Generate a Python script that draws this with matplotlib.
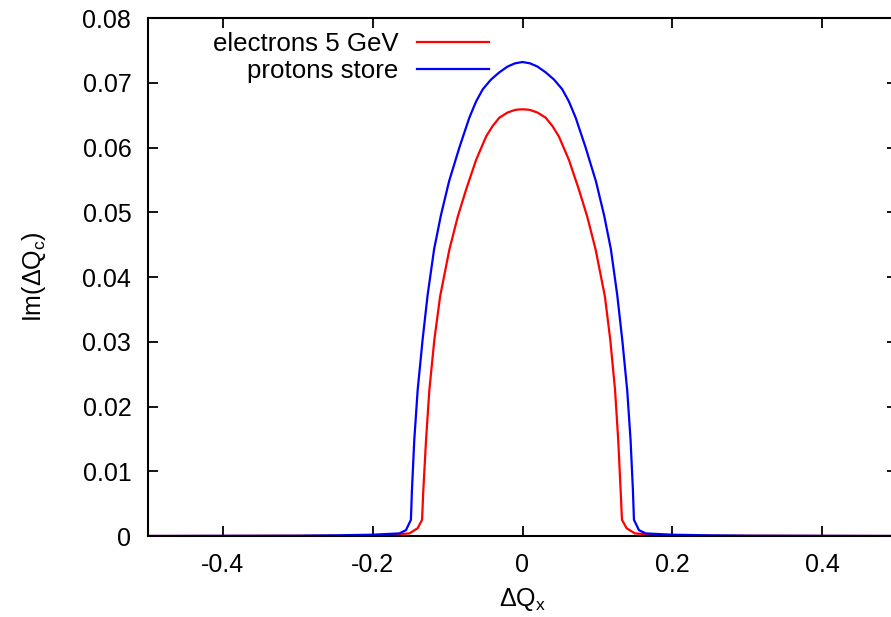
import numpy as np
import matplotlib
matplotlib.use("Agg")
import matplotlib.pyplot as plt

plt.rcParams['font.family'] = ['Liberation Sans', 'DejaVu Sans']
plt.rcParams['mathtext.fontset'] = 'custom'
plt.rcParams['mathtext.rm'] = 'Liberation Sans'
plt.rcParams['axes.unicode_minus'] = False

# data
dq_blue = [-0.5, -0.30, -0.25, -0.20, -0.1645, -0.1556, -0.149, -0.1476, -0.1445,
           -0.140, -0.1334, -0.1267, -0.118, -0.109, -0.098, -0.084, -0.071,
           -0.062, -0.053, -0.042, -0.031, -0.020, -0.010, -0.005, 0.0,
           0.005, 0.010, 0.020, 0.031, 0.042, 0.053, 0.062, 0.071, 0.084, 0.098, 0.109,
           0.118, 0.1265, 0.1332, 0.1398, 0.1443, 0.1474, 0.1488, 0.1555, 0.1645,
           0.20, 0.25, 0.30, 0.5]
im_blue = [0.0, 0.00004, 0.0001, 0.0002, 0.0004, 0.0009, 0.0025, 0.0071, 0.0148,
           0.0225, 0.0303, 0.0372, 0.0443, 0.0495, 0.0548, 0.0601, 0.0646,
           0.0671, 0.0690, 0.0705, 0.0716, 0.0725, 0.0730, 0.0731, 0.0732,
           0.0731, 0.0730, 0.0725, 0.0716, 0.0705, 0.0690, 0.0671, 0.0646, 0.0601, 0.0548, 0.0495,
           0.0443, 0.0372, 0.0303, 0.0225, 0.0148, 0.0071, 0.0025, 0.0009, 0.0004,
           0.0002, 0.0001, 0.00004, 0.0]

dq_red = [-0.5, -0.22, -0.18, -0.151, -0.140, -0.1341, -0.1324, -0.1288, -0.1244,
          -0.1177, -0.110, -0.0977, -0.0865, -0.0753, -0.0619, -0.0486, -0.040,
          -0.031, -0.020, -0.010, -0.005, 0.0,
          0.005, 0.010, 0.020, 0.031, 0.040, 0.0486, 0.0619, 0.0753, 0.0865, 0.0977,
          0.110, 0.1172, 0.1236, 0.1278, 0.1310, 0.1328, 0.139, 0.150, 0.18, 0.22, 0.5]
im_red = [0.0, 0.00005, 0.00015, 0.0004, 0.0012, 0.0025, 0.0071, 0.0148, 0.0225,
          0.0303, 0.0370, 0.0442, 0.0493, 0.0535, 0.0581, 0.0617, 0.0633,
          0.0646, 0.0654, 0.0658, 0.06587, 0.0659,
          0.06587, 0.0658, 0.0654, 0.0646, 0.0633, 0.0617, 0.0581, 0.0535, 0.0493, 0.0442,
          0.0370, 0.0303, 0.0225, 0.0148, 0.0071, 0.0025, 0.0012, 0.0004, 0.00015, 0.00005, 0.0]

xticks = [-0.4, -0.2, 0, 0.2, 0.4]
xticklabels = ['-0.4', '-0.2', '0', '0.2', '0.4']
yticks = [0, 0.01, 0.02, 0.03, 0.04, 0.05, 0.06, 0.07, 0.08]
yticklabels = ['0', '0.01', '0.02', '0.03', '0.04', '0.05', '0.06', '0.07', '0.08']

fig = plt.figure(figsize=(8.91, 6.17), dpi=100)
ax = fig.add_axes([148 / 891, 81 / 617, 749 / 891, 518 / 617])

ax.plot(dq_red, im_red, color='#ff0000', lw=1.6, label='electrons 5 GeV')
ax.plot(dq_blue, im_blue, color='#0000ff', lw=1.6, label='protons store')

ax.set_xlim(-0.5, 0.5)
ax.set_ylim(0, 0.08)
ax.set_xticks(xticks)
ax.set_xticklabels(xticklabels)
ax.set_yticks(yticks)
ax.set_yticklabels(yticklabels)
ax.tick_params(direction='in', length=7, width=1.3, labelsize=18,
               top=True, right=True, pad=12)
for s in ax.spines.values():
    s.set_linewidth(1.5)

ax.set_xlabel('ΔQ$_\\mathrm{x}$', fontsize=18)
ax.set_ylabel('Im(ΔQ$_\\mathrm{c}$)', fontsize=18)
ax.xaxis.set_label_coords(0.5, -0.097)
ax.yaxis.set_label_coords(-0.1335, 0.5)

ax.legend(loc='upper right', bbox_to_anchor=(489 / 891, 1 - 32 / 617),
          bbox_transform=fig.transFigure, frameon=False, markerfirst=False,
          fontsize=18.6, handlelength=2.8, handletextpad=0.7,
          labelspacing=0.12, borderpad=0, borderaxespad=0)

fig.savefig('out.png', dpi=100)
